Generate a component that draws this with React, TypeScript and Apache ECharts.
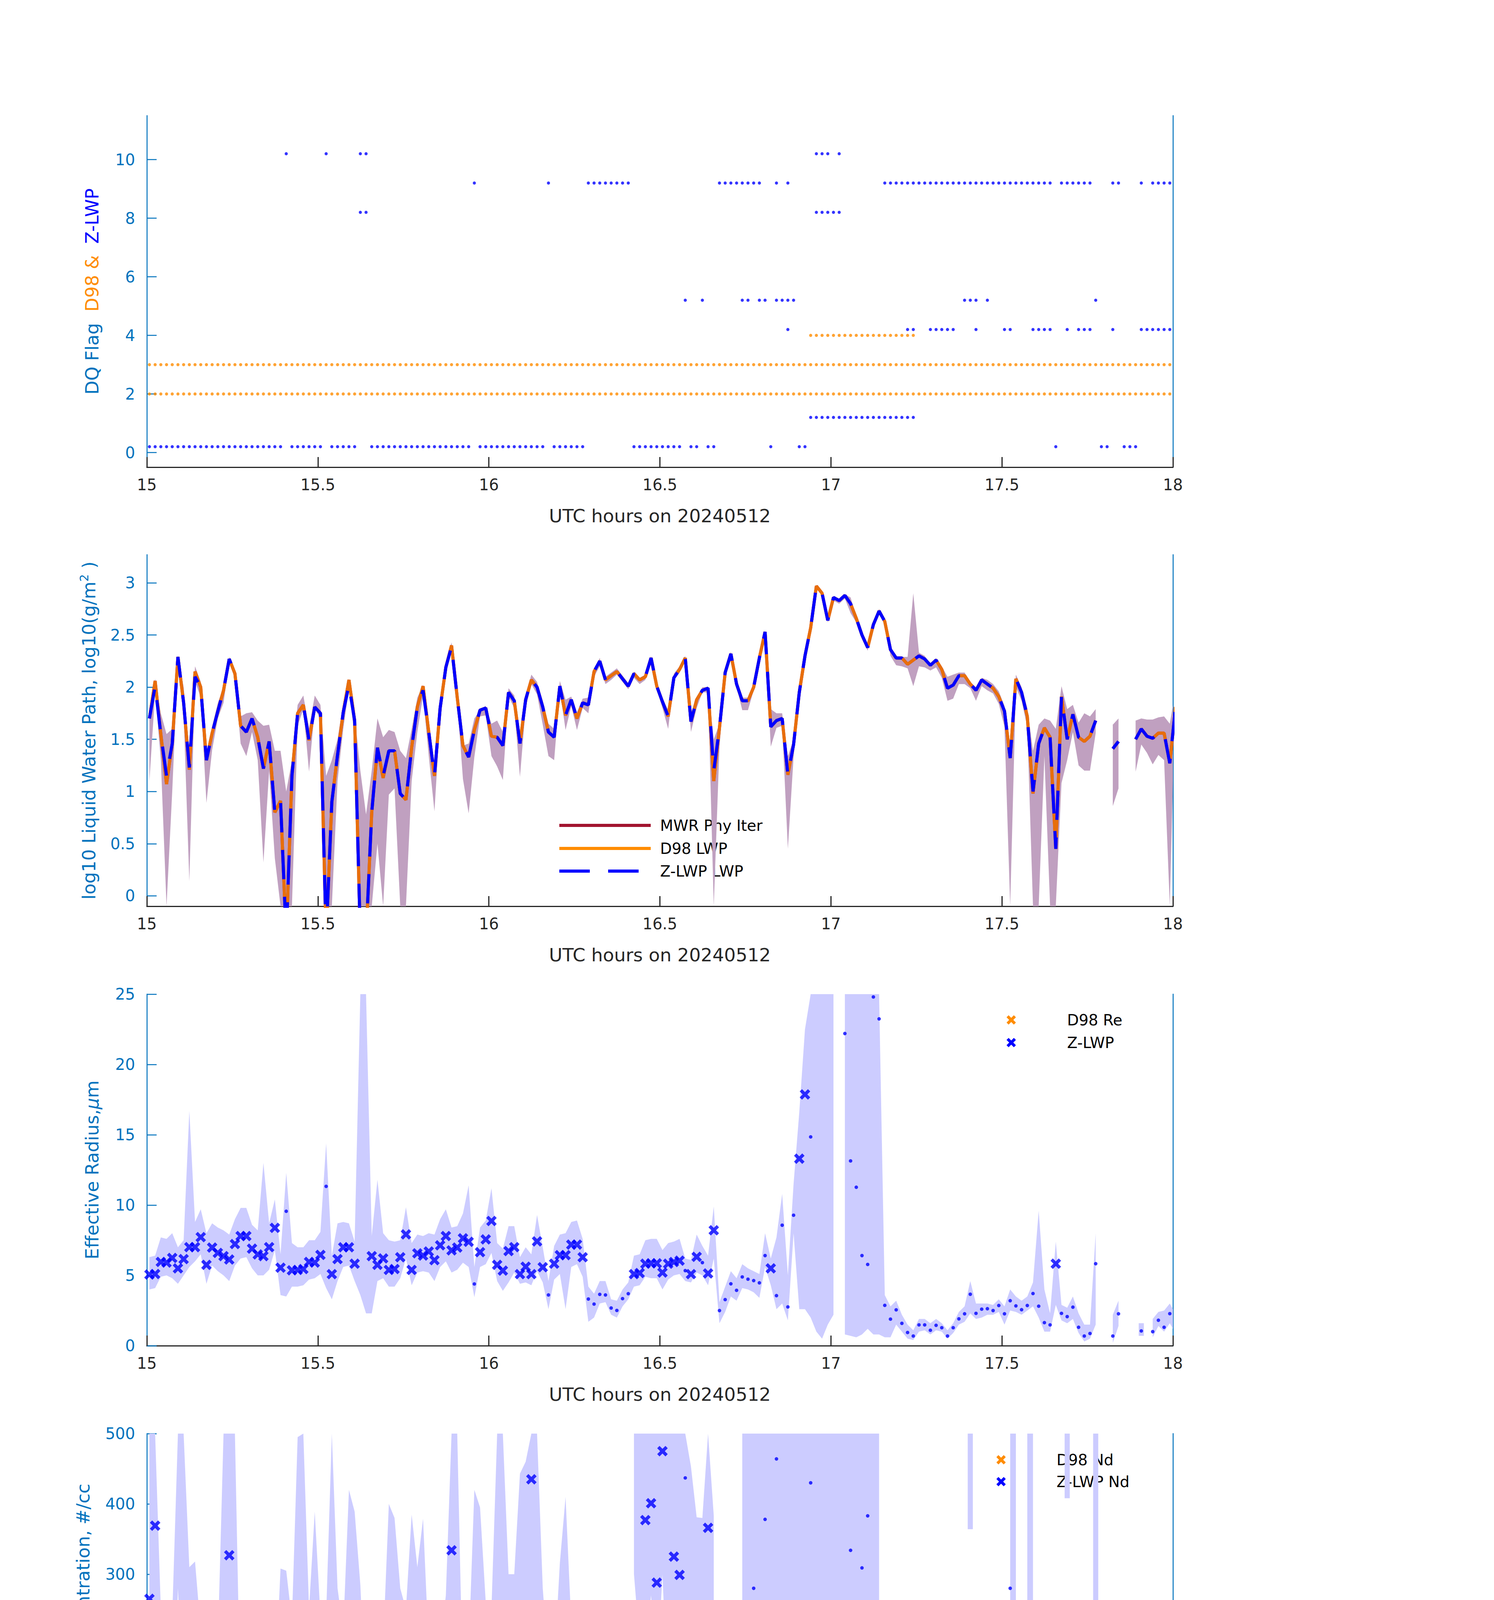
import React, { useEffect, useRef } from 'react';
import * as echarts from 'echarts';

const FONT = 'DejaVu Sans';
const AXIS_BLUE = '#0072BD';
const INK = '#262626';
const ORANGE = '#FF8C00';
const BLUE = '#0000FF';
const MWR_RED = '#A2142F';
const LWP_BAND = '#C0A0C0';
const ZLWP_BAND = '#CCCCFF';

// time grid: one sample per minute from 15 UTC
const START_HOUR = 15;
const SAMPLE_OFFSET_MIN = 0.45;
const hourOf = (k: number) => START_HOUR + (k + SAMPLE_OFFSET_MIN) / 60;

// x axis
const X_MIN = 15;
const X_MAX = 18;
const X_STEP = 0.5;

// ---------- Panel 1: data-quality flags (minute ranges) ----------
const zlwpFlag0 = [[0, 23], [25, 30], [32, 36], [39, 56], [58, 69], [71, 76], [85, 93], [95, 96], [98, 99], [109, 109], [114, 115], [159, 159], [167, 168], [171, 173]];
const zlwpFlag1 = [[116, 134]];
const zlwpFlag4 = [[112, 112], [133, 134], [137, 141], [145, 145], [150, 151], [155, 158], [161, 161], [163, 165], [169, 169], [174, 180]];
const zlwpFlag5 = [[94, 94], [97, 97], [104, 105], [107, 108], [110, 113], [143, 145], [147, 147], [166, 166]];
const zlwpFlag8 = [[37, 38], [117, 121]];
const zlwpFlag9 = [[57, 57], [70, 70], [77, 84], [100, 107], [110, 110], [112, 112], [129, 158], [160, 165], [169, 170], [174, 174], [176, 180]];
const zlwpFlag10 = [[24, 24], [31, 31], [37, 38], [117, 119], [121, 121]];
const d98Flag2 = [[0, 180]];
const d98Flag3 = [[0, 180]];
const d98Flag4 = [[116, 134]];
const ZLWP_FLAG_SHIFT = 0.2;
const flag1Ticks = [0, 2, 4, 6, 8, 10];

// ---------- Panel 2: log10 LWP ----------
const lwpZ = [
  1.70, 2.01, 1.55, 1.15, 1.46, 2.29, 1.85, 1.23, 2.10, 2.00,
  1.30, 1.56, 1.77, 1.97, 2.27, 2.13, 1.63, 1.57, 1.70, 1.52,
  1.22, 1.48, 0.80, 0.91, -0.40, 1.15, 1.75, 1.83, 1.49, 1.81,
  1.75, -0.40, 0.90, 1.35, 1.76, 2.02, 1.68, -0.40, -0.40, 0.80,
  1.42, 1.15, 1.39, 1.39, 0.98, 0.92, 1.42, 1.81, 1.97, 1.57,
  1.15, 1.80, 2.19, 2.39, 1.90, 1.44, 1.33, 1.59, 1.78, 1.80,
  1.53, 1.52, 1.44, 1.95, 1.87, 1.46, 1.88, 2.07, 2.00, 1.81,
  1.57, 1.52, 2.01, 1.73, 1.88, 1.70, 1.85, 1.83, 2.15, 2.25,
  2.07, 2.11, 2.15, 2.08, 2.01, 2.13, 2.07, 2.10, 2.28, 2.01,
  1.86, 1.72, 2.09, 2.17, 2.28, 1.67, 1.88, 1.97, 1.99, 1.20,
  1.61, 2.14, 2.32, 2.03, 1.87, 1.87, 2.00, 2.28, 2.53, 1.62,
  1.68, 1.70, 1.16, 1.45, 1.95, 2.30, 2.57, 2.97, 2.90, 2.64,
  2.86, 2.83, 2.88, 2.80, 2.66, 2.50, 2.38, 2.60, 2.73, 2.63,
  2.36, 2.28, 2.28, 2.22, 2.26, 2.30, 2.27, 2.21, 2.26, 2.17,
  1.99, 2.02, 2.11, 2.11, 2.03, 1.97, 2.07, 2.03, 1.99, 1.91,
  1.77, 1.32, 2.08, 1.95, 1.72, 1.00, 1.46, 1.61, 1.52, 0.45,
  1.91, 1.50, 1.74, 1.52, 1.48, 1.53, 1.68, null, null, 1.41,
  1.48, null, null, 1.50, 1.60, 1.53, 1.51, 1.56, 1.56, 1.27,
  1.81,
];
const lwpD98 = [
  1.70, 2.06, 1.55, 1.07, 1.46, 2.29, 1.85, 1.21, 2.15, 2.00,
  1.30, 1.56, 1.77, 1.97, 2.27, 2.13, 1.63, 1.57, 1.70, 1.52,
  1.22, 1.48, 0.80, 0.91, -0.40, 1.15, 1.75, 1.83, 1.49, 1.81,
  1.75, -0.40, 0.90, 1.35, 1.76, 2.07, 1.68, -0.40, -0.40, 0.80,
  1.42, 1.13, 1.39, 1.39, 0.98, 0.92, 1.42, 1.81, 2.01, 1.57,
  1.15, 1.80, 2.19, 2.40, 1.90, 1.44, 1.33, 1.59, 1.78, 1.80,
  1.53, 1.52, 1.44, 1.95, 1.87, 1.46, 1.88, 2.07, 2.00, 1.81,
  1.57, 1.52, 2.01, 1.73, 1.88, 1.70, 1.85, 1.83, 2.15, 2.25,
  2.07, 2.11, 2.15, 2.08, 2.01, 2.13, 2.07, 2.10, 2.28, 2.01,
  1.86, 1.72, 2.09, 2.17, 2.28, 1.67, 1.88, 1.97, 1.99, 1.10,
  1.61, 2.14, 2.32, 2.03, 1.87, 1.87, 2.00, 2.28, 2.53, 1.62,
  1.68, 1.70, 1.16, 1.45, 1.95, 2.30, 2.57, 2.97, 2.90, 2.64,
  2.86, 2.83, 2.88, 2.80, 2.66, 2.50, 2.38, 2.60, 2.73, 2.63,
  2.36, 2.28, 2.28, 2.22, 2.26, 2.30, 2.27, 2.21, 2.26, 2.17,
  1.99, 2.02, 2.11, 2.11, 2.03, 1.97, 2.07, 2.03, 1.99, 1.91,
  1.77, 1.32, 2.08, 1.95, 1.72, 0.98, 1.46, 1.61, 1.52, 0.45,
  1.91, 1.50, 1.74, 1.52, 1.48, 1.53, 1.68, null, null, 1.41,
  1.48, null, null, 1.50, 1.60, 1.53, 1.51, 1.56, 1.56, 1.27,
  1.81,
];
const lwpMwr = lwpD98;
const lwpLo = [
  1.10, 1.95, 1.30, -0.20, 1.00, 2.24, 1.75, 0.14, 2.06, 1.90,
  0.89, 1.40, 1.70, 1.85, 2.24, 2.08, 1.46, 1.34, 1.57, 1.30,
  0.32, 1.20, 0.36, -0.20, -0.20, -0.20, 1.63, 1.79, 1.19, 1.79,
  1.70, -0.20, -0.20, 1.10, 1.60, 1.98, 1.52, -0.20, -0.20, -0.20,
  0.50, -0.20, 0.97, 1.03, -0.20, -0.20, 1.10, 1.57, 1.92, 1.34,
  0.81, 1.70, 2.15, 2.37, 1.85, 1.12, 0.79, 1.33, 1.72, 1.73,
  1.34, 1.24, 1.11, 1.91, 1.80, 1.14, 1.80, 2.03, 1.93, 1.64,
  1.34, 1.30, 1.97, 1.59, 1.82, 1.59, 1.80, 1.75, 2.10, 2.20,
  2.03, 2.07, 2.12, 2.05, 1.98, 2.09, 2.03, 2.07, 2.25, 1.98,
  1.80, 1.60, 2.07, 2.14, 2.26, 1.57, 1.80, 1.95, 1.95, -0.20,
  1.43, 2.10, 2.30, 2.00, 1.78, 1.78, 1.97, 2.25, 2.51, 1.43,
  1.61, 1.63, 0.45, 1.33, 1.85, 2.20, 2.54, 2.95, 2.88, 2.62,
  2.83, 2.80, 2.85, 2.71, 2.62, 2.46, 2.35, 2.58, 2.70, 2.61,
  2.30, 2.21, 2.20, 2.18, 2.01, 2.20, 2.19, 2.16, 2.19, 2.09,
  1.87, 1.89, 2.03, 2.03, 1.99, 1.87, 2.01, 1.97, 1.94, 1.84,
  1.62, -0.20, 2.00, 1.87, 1.62, -0.20, -0.20, 1.34, -0.20, -0.20,
  1.08, 1.30, 1.57, 1.25, 1.20, 1.20, 1.56, null, null, 0.86,
  1.03, null, null, 1.19, 1.45, 1.37, 1.26, 1.35, 1.30, -0.20,
  1.10,
];
const lwpHi = [
  1.78, 2.08, 1.75, 1.55, 1.60, 2.31, 2.00, 1.39, 2.20, 2.05,
  1.34, 1.62, 1.85, 2.00, 2.29, 2.16, 1.72, 1.75, 1.76, 1.68,
  1.63, 1.64, 1.39, 1.39, 1.00, 1.30, 1.83, 1.92, 1.61, 1.92,
  1.83, 1.15, 1.30, 1.50, 1.85, 2.08, 1.74, 1.20, 0.78, 1.20,
  1.70, 1.52, 1.59, 1.57, 1.39, 1.32, 1.60, 1.90, 2.02, 1.61,
  1.21, 1.83, 2.19, 2.43, 1.95, 1.44, 1.46, 1.70, 1.78, 1.82,
  1.65, 1.68, 1.57, 1.99, 1.92, 1.57, 1.92, 2.12, 2.05, 1.87,
  1.65, 1.60, 2.06, 1.88, 1.91, 1.76, 1.89, 1.90, 2.17, 2.28,
  2.10, 2.14, 2.18, 2.11, 2.04, 2.15, 2.09, 2.12, 2.30, 2.04,
  1.90, 1.78, 2.13, 2.20, 2.30, 1.75, 1.90, 2.00, 2.00, 1.50,
  1.65, 2.16, 2.34, 2.06, 1.90, 1.90, 2.03, 2.30, 2.55, 1.79,
  1.75, 1.75, 1.34, 1.50, 1.98, 2.32, 2.59, 2.98, 2.92, 2.66,
  2.87, 2.84, 2.89, 2.86, 2.68, 2.52, 2.40, 2.62, 2.75, 2.65,
  2.37, 2.29, 2.29, 2.29, 2.90, 2.33, 2.30, 2.22, 2.28, 2.20,
  2.10, 2.12, 2.14, 2.14, 2.05, 2.00, 2.09, 2.07, 2.03, 1.96,
  1.82, 1.41, 2.12, 2.00, 1.80, 1.39, 1.64, 1.70, 1.68, 1.60,
  2.01, 1.79, 1.83, 1.66, 1.75, 1.72, 1.79, null, null, 1.64,
  1.70, null, null, 1.68, 1.70, 1.69, 1.69, 1.71, 1.72, 1.65,
  1.83,
];
const lwpTicks = [0, 0.5, 1, 1.5, 2, 2.5, 3];

// ---------- Panel 3: effective radius (um) ----------
const reVal = [
  5.06, 5.10, 5.96, 5.91, 6.24, 5.50, 6.16, 7.01, 7.01, 7.72,
  5.75, 6.98, 6.60, 6.37, 6.13, 7.23, 7.80, 7.80, 6.90, 6.49,
  6.37, 7.01, 8.38, 5.55, 9.56, 5.36, 5.39, 5.45, 5.96, 5.91,
  6.46, 11.33, 5.09, 6.16, 7.00, 7.00, 5.83, null, null, 6.37,
  5.75, 6.21, 5.39, 5.45, 6.29, 7.92, 5.39, 6.57, 6.41, 6.70,
  6.08, 7.14, 7.80, 6.78, 6.98, 7.64, 7.39, 4.39, 6.65, 7.56,
  8.87, 5.75, 5.34, 6.73, 7.01, 5.09, 5.62, 5.09, 7.42, 5.58,
  3.61, 5.83, 6.44, 6.44, 7.19, 7.19, 6.29, 3.32, 2.96, 3.65,
  3.61, 2.68, 2.51, 3.35, 3.70, 5.09, 5.17, 5.83, 5.86, 5.86,
  5.20, 5.83, 5.95, 6.05, 5.34, 5.09, 6.32, 5.91, 5.14, 8.21,
  2.50, 3.28, 4.40, 3.94, 4.89, 4.73, 4.63, 4.47, 6.41, 5.50,
  3.56, 8.57, 2.76, 9.28, 13.30, 17.87, 14.85, null, null, null,
  null, null, 22.20, 13.14, 11.27, 6.41, 5.78, 24.80, 23.24, 2.87,
  1.89, 2.55, 1.59, 0.94, 0.69, 1.48, 1.48, 1.10, 1.45, 1.28,
  0.69, 1.28, 1.91, 2.27, 3.66, 2.30, 2.60, 2.63, 2.50, 2.86,
  2.27, 3.20, 2.83, 2.56, 2.86, 3.71, 2.81, 1.64, 1.48, 5.83,
  2.30, 2.07, 2.74, 1.31, 0.69, 0.87, 5.83, null, null, 0.69,
  2.27, null, null, null, 1.05, null, 1.00, 1.81, 1.31, 2.28,
  1.81,
];
const reLo = [
  4.0, 4.1, 4.9, 5.0, 4.8, 4.4, 5.0, 5.6, 6.0, 6.5,
  4.4, 5.7, 5.3, 5.0, 4.6, 5.7, 6.2, 6.3, 5.5, 5.0,
  5.0, 5.4, 6.8, 3.6, 3.5, 4.2, 4.2, 4.3, 4.7, 4.8,
  5.1, 4.1, 3.3, 4.6, 5.6, 5.7, 4.6, 3.6, 2.3, 2.3,
  4.6, 4.8, 4.2, 4.2, 4.8, 6.2, 4.3, 5.2, 5.3, 5.2,
  4.6, 5.6, 6.0, 5.2, 5.4, 5.9, 5.6, 3.45, 5.6, 5.8,
  6.6, 4.6, 3.9, 4.5, 5.2, 4.4, 4.5, 4.3, 5.3, 4.5,
  2.6, 4.7, 5.1, 2.6, 5.6, 5.8, 4.9, 1.7, 2.0, 3.0,
  3.1, 2.2, 2.0, 2.8, 3.3, 4.2, 4.3, 4.9, 4.8, 4.8,
  4.0, 4.7, 5.0, 5.1, 4.6, 4.5, 5.2, 5.0, 4.3, 6.2,
  1.6, 2.4, 3.5, 3.2, 4.1, 4.0, 3.8, 3.4, 5.6, 4.3,
  2.6, 3.0, 1.8, 8.0, 2.6, 2.6, 2.0, 1.0, 0.5, 1.5,
  2.2, null, 0.8, 0.7, 0.6, 0.8, 1.2, 0.8, 0.8, 0.6,
  0.6, 1.5, 1.0, 0.5, 0.4, 1.0, 1.1, 0.8, 1.1, 1.0,
  0.5, 0.9, 1.5, 1.7, 2.3, 1.9, 2.0, 2.2, 2.2, 2.4,
  1.5, 2.5, 2.4, 2.2, 2.5, 2.8, 2.0, 1.0, 1.0, 2.9,
  1.8, 1.6, 1.9, 0.9, 0.3, 0.5, 1.5, null, null, 0.2,
  1.4, null, null, null, 0.7, null, 0.6, 1.4, 1.0, 1.6,
  1.2,
];
const reHi = [
  6.3, 6.4, 7.7, 7.6, 8.0, 7.0, 7.5, 16.7, 8.8, 9.7,
  8.0, 8.7, 8.4, 8.2, 7.9, 9.0, 9.8, 9.8, 8.6, 8.2,
  13.0, 8.7, 10.4, 6.5, 12.3, 7.3, 7.0, 7.0, 7.5, 7.5,
  8.1, 14.4, 6.4, 8.7, 8.8, 8.7, 7.4, 30, 30, 7.8,
  11.8, 8.0, 7.5, 7.4, 7.5, 9.85, 7.3, 7.9, 7.8, 8.0,
  7.9, 9.0, 9.7, 8.4, 8.5, 9.4, 11.4, 5.6, 8.4, 8.9,
  11.2, 7.3, 6.9, 8.5, 8.5, 6.3, 7.0, 6.5, 9.3, 7.0,
  4.6, 7.1, 7.9, 8.0, 8.8, 8.9, 7.6, 4.2, 3.7, 4.6,
  4.6, 3.3, 3.2, 4.0, 4.5, 6.4, 6.5, 7.5, 7.6, 7.6,
  6.8, 7.3, 7.4, 7.6, 6.2, 6.1, 7.9, 7.1, 6.4, 9.9,
  3.1, 4.2, 5.3, 4.8, 5.8, 5.5, 5.3, 5.1, 8.0, 6.2,
  7.7, 10.8, 5.0, 11.5, 16.6, 22.5, 30, 30, 30, 30,
  30, null, 30, 30, 30, 30, 30, 30, 30, 3.6,
  2.8, 3.2, 2.2, 1.5, 1.1, 1.9, 1.9, 1.6, 1.9, 1.6,
  1.1, 1.6, 2.4, 2.8, 4.6, 3.0, 3.0, 3.0, 2.9, 3.3,
  2.8, 4.0, 3.5, 3.2, 3.5, 4.5, 9.6, 4.0, 2.3, 7.4,
  2.9, 2.7, 3.5, 2.3, 1.5, 1.5, 8.0, null, null, 2.2,
  3.2, null, null, null, 1.6, null, 1.9, 2.4, 2.5, 3.0,
  2.6,
];

// ---------- Panel 4: droplet concentration (#/cc) ----------
const ndVal = [
  265, 369, 76, 54, 99, null, 177, 35, 164, 77,
  67, 59, 98, 192, 327, 175, 45, 48, 75, 79,
  43, 63, 9, 34, 2, 69, 181, 249, 97, 199,
  122, 2, 81, 80, 125, 210, 192, 1, 1, 28,
  88, 41, 155, 155, 45, 17, 164, 156, 191, 88,
  79, 98, 164, 334, 134, 55, 63, null, 195, 94,
  39, 193, 188, 142, 111, 188, 231, 435, 116, 152,
  null, 83, 164, 99, 90, 90, 189, null, null, null,
  null, null, null, null, null, null, null, 377, 401, 288,
  475, 209, 325, 299, 437, 213, 106, 191, 366, 15,
  null, null, null, null, 204, 202, 280, null, 378, 122,
  464, 14, null, 7, 43, 32, 430, 1, 1, 1,
  15, 3, 30, 334, 99, 309, 383, 10, 50, null,
  null, null, null, null, null, null, null, null, null, null,
  null, null, null, null, null, null, null, null, null, null,
  null, 280, null, null, null, 160, null, null, null, 18,
  null, null, null, null, null, null, 150, null, null, null,
  null, null, null, null, null, null, null, null, null, null,
  null,
];
const ndLo = [
  130, 180, 26, 22, 22, 280, 100, 3, 70, 20,
  10, 15, 30, 100, 180, 80, 24, 18, 30, 30,
  0, 20, 0, 0, 0, 20, 100, 150, 30, 100,
  60, 0, 40, 30, 50, 100, 80, 0, 0, 10,
  20, 20, 60, 60, 25, 5, 50, 50, 80, 25,
  20, 30, 60, 150, 50, 5, 5, 252, 100, 40,
  22, 60, 50, 40, 40, 40, 130, 260, 60, 80,
  35, 30, 80, 40, 40, 45, 90, null, null, null,
  null, null, null, null, null, 300, 200, 190, 270, 148,
  300, 109, 171, 150, 200, 100, 53, 100, 100, 8,
  null, null, null, null, 97, 98, 150, 250, 190, 55,
  250, 0, 0, 0, 0, 0, 0, 0, 0, 0,
  0, 0, 0, 0, 50, 150, 60, 5, 10, null,
  null, null, null, null, null, null, null, null, null, null,
  null, null, null, null, 364, null, null, null, null, null,
  null, 146, 146, null, 50, 10, null, null, null, 8,
  null, 408, null, null, null, null, 53, null, null, null,
  null, null, null, null, null, null, null, null, null, null,
  null,
];
const ndHi = [
  600, 600, 250, 255, 240, 600, 600, 310, 318, 220,
  232, 140, 200, 600, 600, 600, 93, 95, 151, 160,
  150, 140, 132, 308, 305, 234, 495, 600, 250, 389,
  240, 242, 600, 280, 220, 420, 389, 285, 100, 88,
  250, 200, 400, 380, 280, 250, 385, 310, 379, 194,
  195, 195, 270, 600, 600, 130, 190, 420, 395, 260,
  250, 600, 600, 300, 300, 443, 460, 600, 600, 280,
  170, 170, 316, 410, 230, 100, 250, null, null, null,
  null, null, null, null, null, 600, 600, 600, 600, 600,
  600, 600, 600, 600, 600, 453, 381, 380, 600, 383,
  null, null, null, null, 600, 600, 600, 600, 600, 600,
  600, 600, 600, 600, 600, 600, 600, 600, 600, 600,
  600, 600, 600, 600, 600, 600, 600, 600, 600, null,
  null, null, null, null, null, null, null, null, null, null,
  null, null, null, null, 600, null, null, null, null, null,
  null, 600, 600, null, 600, 600, null, null, null, 24,
  null, 600, null, null, null, null, 600, null, null, null,
  null, null, null, null, null, null, null, null, null, null,
  null,
];

// ---------- Panel 5: optical depth ----------
const odVal = [
  14.8, 33.3, 9.4, 3.1, 7.1, 53.8, 17.2, 3.7, 30.2, 19.5,
  5.4, 8.4, 13.8, 22.5, 46.2, 29.4, 8.4, 7.2, 10.9, 8.7,
  3.8, 6.3, 1.2, 2.3, 0.0, 4.1, 15.6, 19.1, 7.7, 17.1,
  12.9, 0.0, 2.5, 5.2, 12.5, 24.9, 12.9, 0.0, 0.0, 1.5,
  6.9, 3.5, 6.8, 6.8, 2.5, 1.7, 7.2, 15.1, 22.8, 8.1,
  3.8, 10.4, 31.1, 55.8, 17.4, 5.6, 4.5, 13.6, 14.0, 12.7,
  5.6, 8.9, 7.9, 19.9, 16.4, 8.4, 20.7, 35.1, 20.7, 14.6,
  15.3, 8.7, 24.3, 12.5, 16.1, 10.7, 16.6, 31.5, 69.8, 75.8,
  47.7, 71.8, 85.4, 54.3, 43.1, 41.0, 34.2, 32.9, 50.4, 27.3,
  20.9, 13.8, 31.5, 35.6, 55.6, 14.3, 16.8, 23.8, 29.5, 2.3,
  22.4, 64.7, 73.1, 44.3, 23.1, 24.0, 31.5, 55.1, 81.8, 11.3,
  20.3, 9.0, 7.9, 5.3, 9.2, 13.6, 38.0, 14.3, 10.4, 9.7,
  28.3, 15.5, 55.1, 75.1, 66.0, 83.7, 63.6, 24.9, 35.6, null,
  null, null, null, null, null, null, null, null, null, null,
  null, null, 99.8, 85.6, 46.5, 59.9, 69.8, 63.1, 59.3, 41.1,
  37.2, 9.8, 65.6, 48.7, 28.0, 4.1, 14.4, 40.1, 34.2, 0.9,
  54.6, 23.5, 30.4, 38.9, 69.6, 61.3, 12.6, null, null, 57.3,
  20.0, null, null, null, 56.3, null, 49.0, 29.9, 40.5, 12.5,
  53.6,
];
const odLo = [
  10, 19, 6, 1, 3, 40, 10, 0.5, 22, 14,
  1.5, 4.5, 9, 16, 36, 22, 4.8, 4, 8, 5,
  0.3, 2, 0, 0, 0, 0.5, 9, 13, 5, 11,
  8.7, 0, 0.5, 2, 7, 18, 6.8, 0, 0, 0,
  3, 1, 3, 3, 0.5, 0, 4, 9, 15, 5.4,
  1.5, 6, 22, 42, 10, 2, 0.5, 10, 10, 8,
  3.5, 5, 4, 14, 11, 3.5, 15, 27, 14, 10,
  6.8, 4.8, 17, 8.7, 11, 7, 11, 13.6, 55, 60,
  38, 55, 65, 40, 33, 33, 27, 28, 40, 22,
  15, 9.7, 24, 27, 28, 11, 12, 16, 22, 0,
  12.7, 50.7, 58, 30, 17, 17, 20, 40, 65, 6.8,
  10, 5, 0.9, 2.8, 5, 9, 10, 9, 6, 6,
  18.6, 13.3, 44, 33, 40, 55, 36, 20, 27, null,
  null, 91, null, null, 58, null, null, null, null, null,
  null, 80, 78, 65, 36, 52, 55, 50, 46.8, 24.8,
  21, 8.4, 40, 30, 15, 0, 5, 25, 15.3, 0,
  33, 6.4, 18, 16, 23.5, 40, 8.7, null, null, 10.4,
  5, null, null, null, 30.7, null, 20.5, 14.6, 20, 5,
  30,
];
const odHi = [
  20, 41, 15, 7, 13, 66, 25, 10, 37, 28,
  11, 13, 19, 28, 58, 37, 12.3, 12, 15.6, 14,
  9, 11, 6, 9.7, 6, 6, 21, 26, 14, 23.5,
  17, 6, 9.4, 10, 16.6, 31, 18, 4.8, 4.8, 5,
  16.3, 8, 12.7, 11, 5, 6, 12, 20, 28.4, 13,
  7.5, 15, 42.8, 69.4, 27, 10, 9, 19.9, 18, 16,
  10, 14.6, 14, 24.5, 21, 14, 27, 44, 27, 19,
  25.4, 13, 31, 20, 20, 15, 27, 62.5, 93, 95.6,
  70, 100, 120, 60, 52, 52, 42, 42, 63, 37,
  28, 19.2, 40, 45, 70, 22, 23, 30, 37, 7,
  33.6, 82, 91, 60, 30, 31, 40, 70, 120, 30,
  30, 13, 17.6, 11.3, 12, 86.8, 120, 120, 120, 120,
  120, 120, 120, 120, 120, 120, 120, 120, 120, null,
  null, 120, null, null, 120, null, null, null, null, null,
  null, 120, 120, 120, 75, 76, 89, 80, 75.6, 60,
  67.7, 30, 82.8, 70, 50, 15, 30, 52, 56, 11,
  79, 45, 45, 100, 120, 120, 17, null, null, 120,
  38.9, null, null, null, 81.2, null, 82.8, 55, 68.7, 39.5,
  70,
];

// ---------- layout ----------
const CANVAS_W = 3825;
const CANVAS_H = 6000;
const GRID_LEFT = 376;
const GRID_WIDTH = 2627;
const GRID_HEIGHT = 900;
const PANEL_TOPS = [296, 1420, 2545, 3670, 4795];
const Y_NAME_GAPS = [112, 120, 112, 135, 135];
const ISOLATED_HALF_MIN = 0.45;
const X_MARK_PATH = 'path://M2.2,0L5,2.8L7.8,0L10,2.2L7.2,5L10,7.8L7.8,10L5,7.2L2.2,10L0,7.8L2.8,5L0,2.2Z';
const X_MARK_PTS = [[2.2, 0], [5, 2.8], [7.8, 0], [10, 2.2], [7.2, 5], [10, 7.8], [7.8, 10], [5, 7.2], [2.2, 10], [0, 7.8], [2.8, 5], [0, 2.2]];

function expandRanges(ranges: number[][]): number[] {
  const out: number[] = [];
  ranges.forEach(([a, b]) => { for (let k = a; k <= b; k++) out.push(k); });
  return out;
}

const goodSet = new Set(expandRanges(zlwpFlag0));

function flagPoints(list: { flag: number; ranges: number[][] }[], shift: number) {
  const pts: number[][] = [];
  list.forEach(({ flag, ranges }) => {
    expandRanges(ranges).forEach((k) => pts.push([hourOf(k), flag + shift]));
  });
  return pts;
}

function lineData(vals: (number | null)[]) {
  return vals.map((v, k) => [hourOf(k), v == null ? '-' : v]);
}

function markerData(vals: (number | null)[], good: boolean) {
  const out: number[][] = [];
  vals.forEach((v, k) => {
    if (v == null) return;
    if (goodSet.has(k) === good) out.push([hourOf(k), v]);
  });
  return out;
}

function bandSeries(idx: number, lo: (number | null)[], hi: (number | null)[], color: string) {
  return {
    type: 'custom',
    xAxisIndex: idx,
    yAxisIndex: idx,
    silent: true,
    z: 1,
    data: [[X_MIN, 0]],
    renderItem: (params: any, api: any) => {
      const cs = params.coordSys;
      const rect = { x: cs.x, y: cs.y, width: cs.width, height: cs.height };
      const children: any[] = [];
      let run: number[] = [];
      const flush = () => {
        if (!run.length) return;
        let pts: number[][];
        if (run.length === 1) {
          const k = run[0];
          const t = hourOf(k);
          const hw = ISOLATED_HALF_MIN / 60;
          pts = [api.coord([t - hw, hi[k]]), api.coord([t + hw, hi[k]]), api.coord([t + hw, lo[k]]), api.coord([t - hw, lo[k]])];
        } else {
          const upper = run.map((k) => api.coord([hourOf(k), hi[k]]));
          const lower = run.slice().reverse().map((k) => api.coord([hourOf(k), lo[k]]));
          pts = upper.concat(lower);
        }
        const clipped = echarts.graphic.clipPointsByRect(pts, rect);
        children.push({ type: 'polygon', shape: { points: clipped }, style: { fill: color, stroke: null } });
        run = [];
      };
      for (let k = 0; k < lo.length; k++) {
        if (lo[k] == null || hi[k] == null) flush();
        else run.push(k);
      }
      flush();
      return { type: 'group', children };
    },
  };
}

function xMarkPolygon(cx: number, cy: number, size: number, color: string) {
  return {
    type: 'polygon',
    shape: { points: X_MARK_PTS.map(([x, y]) => [cx + ((x - 5) * size) / 10, cy + ((y - 5) * size) / 10]) },
    style: { fill: color },
  };
}

function legendText(x: number, y: number, text: string) {
  return {
    type: 'text',
    x,
    y,
    style: { text, fontSize: 39, fontFamily: FONT, fill: '#000000', align: 'left', verticalAlign: 'middle' },
  };
}

function buildOption() {
  const grids = PANEL_TOPS.map((top) => ({ left: GRID_LEFT, top, width: GRID_WIDTH, height: GRID_HEIGHT, containLabel: false, outerBoundsMode: 'none' }));

  const xAxes = PANEL_TOPS.map((_, i) => ({
    type: 'value',
    gridIndex: i,
    min: X_MIN,
    max: X_MAX,
    interval: X_STEP,
    name: 'UTC hours on 20240512',
    nameLocation: 'middle',
    nameGap: 101,
    nameTextStyle: { fontSize: 47, color: INK, fontFamily: FONT },
    axisLine: { show: true, onZero: false, lineStyle: { color: INK, width: 3 } },
    axisTick: { show: true, inside: true, length: 26, lineStyle: { color: INK, width: 3 } },
    axisLabel: { fontSize: 40, color: INK, margin: 25, fontFamily: FONT },
    splitLine: { show: false },
  }));

  const yNameStyle = { fontSize: 46, color: AXIS_BLUE, fontFamily: FONT, lineHeight: 56 };
  const yCommon = (i: number) => ({
    type: 'value',
    gridIndex: i,
    position: 'left',
    nameLocation: 'middle',
    nameRotate: 90,
    nameGap: Y_NAME_GAPS[i],
    axisLine: { show: true, onZero: false, lineStyle: { color: AXIS_BLUE, width: 2.5 } },
    splitLine: { show: false },
  });
  const tickStyle = { show: true, inside: true, length: 25, lineStyle: { color: AXIS_BLUE, width: 2.5 } };
  const labelStyle = { fontSize: 40, color: AXIS_BLUE, margin: 30, fontFamily: FONT };

  const leftY = [
    {
      ...yCommon(0), min: -0.5, max: 11.5,
      name: '{a|DQ Flag}  {b|D98 &}  {c|Z-LWP}',
      nameTextStyle: {
        ...yNameStyle,
        rich: {
          a: { fontSize: 46, color: AXIS_BLUE, fontFamily: FONT },
          b: { fontSize: 46, color: ORANGE, fontFamily: FONT },
          c: { fontSize: 46, color: BLUE, fontFamily: FONT },
        },
      },
      axisTick: { ...tickStyle, customValues: flag1Ticks },
      axisLabel: { ...labelStyle, customValues: flag1Ticks },
    },
    {
      ...yCommon(1), min: -0.1, max: 3.27,
      name: 'log10 Liquid Water Path, log10(g/m{s|2} )',
      nameTextStyle: {
        ...yNameStyle,
        rich: { s: { fontSize: 30, color: AXIS_BLUE, fontFamily: FONT, verticalAlign: 'top', lineHeight: 56 } },
      },
      axisTick: { ...tickStyle, customValues: lwpTicks },
      axisLabel: { ...labelStyle, customValues: lwpTicks },
    },
    {
      ...yCommon(2), min: 0, max: 25, interval: 5,
      name: 'Effective Radius,{i|μ}m',
      nameTextStyle: {
        ...yNameStyle,
        rich: { i: { fontSize: 46, color: AXIS_BLUE, fontFamily: FONT, fontStyle: 'italic' } },
      },
      axisTick: tickStyle,
      axisLabel: labelStyle,
    },
    {
      ...yCommon(3), min: 0, max: 500, interval: 100,
      name: 'Droplet Concentration, #/cc',
      nameTextStyle: yNameStyle,
      axisTick: tickStyle,
      axisLabel: labelStyle,
    },
    {
      ...yCommon(4), min: 0, max: 100, interval: 20,
      name: 'Optical Depth',
      nameTextStyle: yNameStyle,
      axisTick: tickStyle,
      axisLabel: labelStyle,
    },
  ];
  const rightY = leftY.map((ax: any, i) => ({
    type: 'value',
    gridIndex: i,
    position: 'right',
    min: ax.min,
    max: ax.max,
    axisLine: { show: true, onZero: false, lineStyle: { color: AXIS_BLUE, width: 2.5 } },
    axisTick: { show: false },
    axisLabel: { show: false },
    splitLine: { show: false },
  }));

  const zFlagList = [
    { flag: 0, ranges: zlwpFlag0 }, { flag: 1, ranges: zlwpFlag1 }, { flag: 4, ranges: zlwpFlag4 },
    { flag: 5, ranges: zlwpFlag5 }, { flag: 8, ranges: zlwpFlag8 }, { flag: 9, ranges: zlwpFlag9 },
    { flag: 10, ranges: zlwpFlag10 },
  ];
  const dFlagList = [{ flag: 2, ranges: d98Flag2 }, { flag: 3, ranges: d98Flag3 }, { flag: 4, ranges: d98Flag4 }];

  const dotStyle = (i: number, data: number[][]) => ({
    type: 'scatter', xAxisIndex: i, yAxisIndex: i, symbol: 'circle', symbolSize: 9,
    itemStyle: { color: BLUE }, data, z: 5, silent: true,
  });
  const xStyle = (i: number, data: number[][]) => ({
    type: 'scatter', xAxisIndex: i, yAxisIndex: i, symbol: X_MARK_PATH, symbolSize: 27,
    itemStyle: { color: BLUE }, data, z: 6, silent: true,
  });

  const series: any[] = [
    // panel 1
    { type: 'scatter', xAxisIndex: 0, yAxisIndex: 0, symbol: 'circle', symbolSize: 8, itemStyle: { color: ORANGE }, data: flagPoints(dFlagList, 0), silent: true },
    { type: 'scatter', xAxisIndex: 0, yAxisIndex: 0, symbol: 'circle', symbolSize: 8, itemStyle: { color: BLUE }, data: flagPoints(zFlagList, ZLWP_FLAG_SHIFT), silent: true },
    // panel 2
    bandSeries(1, lwpLo, lwpHi, LWP_BAND),
    { type: 'line', xAxisIndex: 1, yAxisIndex: 1, data: lineData(lwpMwr), showSymbol: false, connectNulls: false, z: 2, silent: true, lineStyle: { color: MWR_RED, width: 8 } },
    { type: 'line', xAxisIndex: 1, yAxisIndex: 1, data: lineData(lwpD98), showSymbol: false, connectNulls: false, z: 3, silent: true, lineStyle: { color: ORANGE, width: 8, opacity: 0.75 } },
    { type: 'line', xAxisIndex: 1, yAxisIndex: 1, data: lineData(lwpZ), showSymbol: false, connectNulls: false, z: 4, silent: true, lineStyle: { color: BLUE, width: 8, type: [75, 45], cap: 'butt' } },
    // panel 3
    bandSeries(2, reLo, reHi, ZLWP_BAND),
    dotStyle(2, markerData(reVal, false)),
    xStyle(2, markerData(reVal, true)),
    // panel 4
    bandSeries(3, ndLo, ndHi, ZLWP_BAND),
    dotStyle(3, markerData(ndVal, false)),
    xStyle(3, markerData(ndVal, true)),
    // panel 5
    bandSeries(4, odLo, odHi, ZLWP_BAND),
    dotStyle(4, markerData(odVal, false)),
    xStyle(4, markerData(odVal, true)),
  ];

  const graphic: any[] = [
    // panel 2 legend
    { type: 'line', shape: { x1: 1432, y1: 2113, x2: 1666, y2: 2113 }, style: { stroke: MWR_RED, lineWidth: 8 } },
    { type: 'line', shape: { x1: 1432, y1: 2172, x2: 1666, y2: 2172 }, style: { stroke: ORANGE, lineWidth: 8 } },
    { type: 'line', shape: { x1: 1432, y1: 2230, x2: 1666, y2: 2230 }, style: { stroke: BLUE, lineWidth: 8, lineDash: [78, 47] } },
    legendText(1690, 2113, 'MWR Phy Iter'),
    legendText(1690, 2172, 'D98 LWP'),
    legendText(1690, 2230, 'Z-LWP LWP'),
    // panel 3 legend
    xMarkPolygon(2589, 2611, 24, ORANGE),
    xMarkPolygon(2589, 2669, 24, BLUE),
    legendText(2732, 2611, 'D98 Re'),
    legendText(2732, 2669, 'Z-LWP'),
    // panel 4 legend
    xMarkPolygon(2563, 3737, 24, ORANGE),
    xMarkPolygon(2563, 3793, 24, BLUE),
    legendText(2705, 3737, 'D98 Nd'),
    legendText(2705, 3793, 'Z-LWP Nd'),
    // panel 5 legend
    xMarkPolygon(595, 4861, 24, ORANGE),
    xMarkPolygon(595, 4919, 24, BLUE),
    legendText(735, 4861, 'D98 OD'),
    legendText(735, 4919, 'Z-LWP Nd'),
  ];

  return {
    animation: false,
    backgroundColor: '#FFFFFF',
    textStyle: { fontFamily: FONT },
    grid: grids,
    xAxis: xAxes,
    yAxis: [...leftY, ...rightY],
    series,
    graphic,
  };
}

export default function App() {
  const ref = useRef<HTMLDivElement>(null);
  useEffect(() => {
    document.body.style.margin = '0';
    const chart = echarts.init(ref.current as HTMLDivElement, null, { renderer: 'svg', width: CANVAS_W, height: CANVAS_H });
    chart.setOption(buildOption() as any);
    return () => chart.dispose();
  }, []);
  return <div ref={ref} style={{ width: CANVAS_W, height: CANVAS_H }} />;
}
